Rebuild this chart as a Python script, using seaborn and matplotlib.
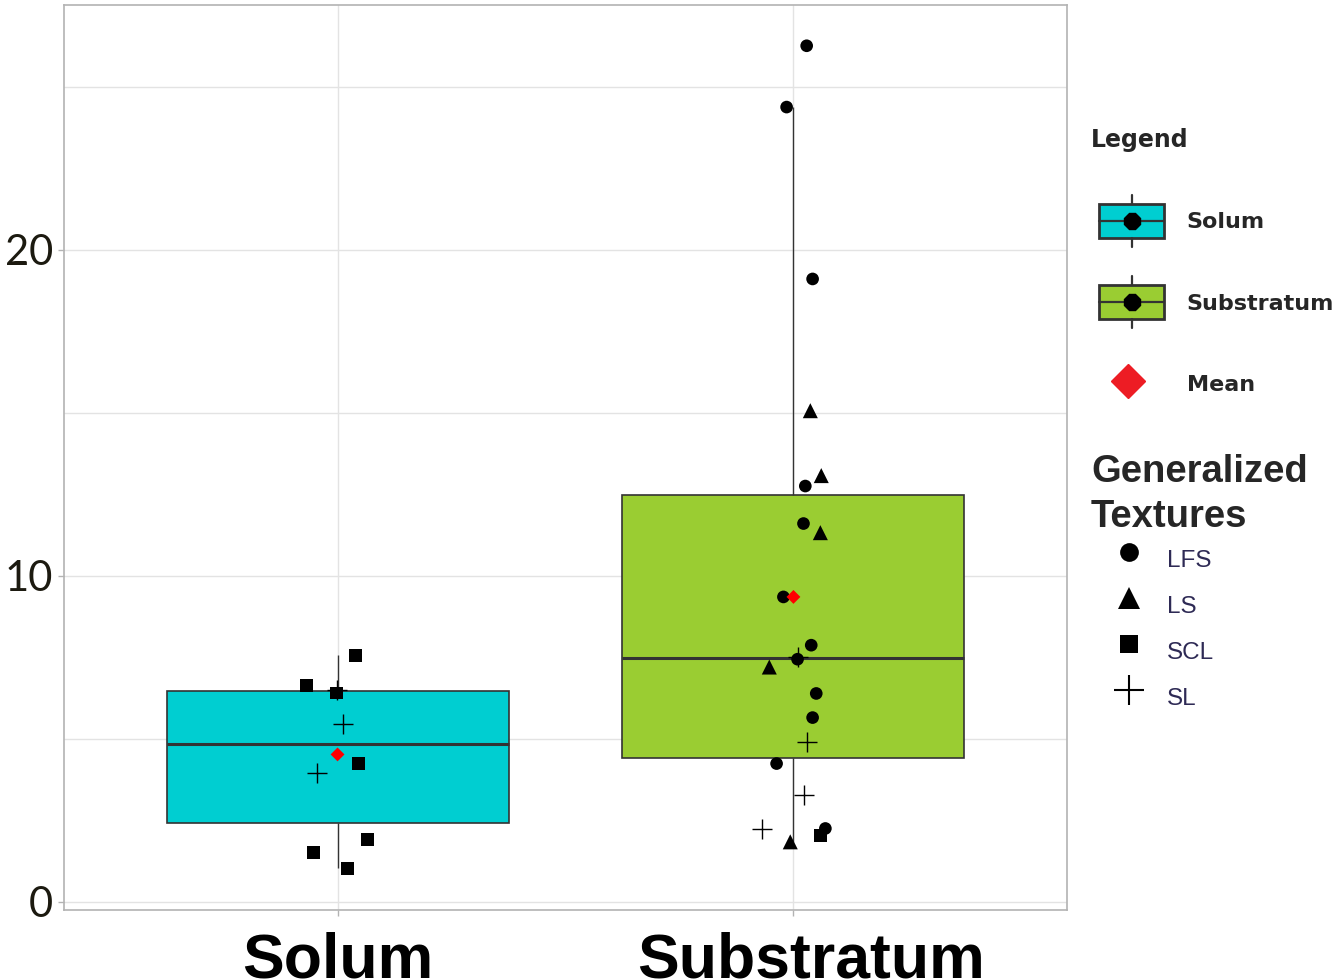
import numpy as np
import pandas as pd
import matplotlib
matplotlib.use("Agg")
import matplotlib.pyplot as plt
import matplotlib.transforms as mtransforms
import seaborn as sns
from matplotlib.lines import Line2D
from matplotlib.patches import Patch, Rectangle
from matplotlib.legend_handler import HandlerBase
from matplotlib.ticker import MultipleLocator

# values (value, texture, horizontal jitter)
horizons = ["Solum", "Substratum"]

solum_values = [7.56, 6.64, 6.40, 6.49, 5.45, 3.94, 4.25, 1.92, 1.52, 1.03]
solum_textures = ["SCL", "SCL", "SCL", "SL", "SL", "SL", "SCL", "SCL", "SCL", "SCL"]
solum_jitter = [0.039, -0.068, -0.002, -0.002, 0.011, -0.044, 0.046, 0.066, -0.053, 0.022]

substratum_values = [26.25, 24.37, 19.10, 15.06, 13.07, 12.75, 11.60, 11.32, 9.35, 7.87, 7.44,
                     7.52, 7.20, 6.39, 5.65, 4.90, 4.24, 3.27, 2.22, 1.84, 2.04, 2.25]
substratum_textures = ["LFS", "LFS", "LFS", "LS", "LS", "LFS", "LFS", "LS", "LFS", "LFS", "LFS",
                       "SL", "LS", "LFS", "LFS", "SL", "LFS", "SL", "SL", "LS", "SCL", "LFS"]
substratum_jitter = [0.029, -0.015, 0.042, 0.037, 0.061, 0.026, 0.022, 0.059, -0.022, 0.039, 0.009,
                     0.009, -0.053, 0.050, 0.042, 0.029, -0.037, 0.024, -0.068, -0.007, 0.059, 0.070]

texture_order = ["LFS", "LS", "SCL", "SL"]
horizon_colors = {"Solum": "#00CED1", "Substratum": "#9ACD32"}
texture_markers = {"LFS": "o", "LS": "^", "SCL": "s", "SL": "+"}
texture_sizes = {"LFS": 83, "LS": 117, "SCL": 83, "SL": 228}
legend_ms = {"LFS": 13.5, "LS": 16, "SCL": 13, "SL": 21}

df = pd.DataFrame({
    "horizon": ["Solum"] * len(solum_values) + ["Substratum"] * len(substratum_values),
    "value": solum_values + substratum_values,
    "texture": solum_textures + substratum_textures,
    "jitter": solum_jitter + substratum_jitter,
})
df["pos"] = df["horizon"].map({h: i for i, h in enumerate(horizons)})
df["x_jit"] = df["pos"] + df["jitter"]

means = df.groupby("horizon", sort=False)["value"].mean().reset_index()
means["pos"] = means["horizon"].map({h: i for i, h in enumerate(horizons)})


class BoxKeyHandler(HandlerBase):
    # little boxplot glyph used in the first legend
    def create_artists(self, legend, orig_handle, xdescent, ydescent, width, height, fontsize, trans):
        box_w, box_h, span = 46.8, 24.5, 38.0
        x0 = -xdescent + width - box_w
        xc = x0 + box_w / 2
        yc = -ydescent + height / 2
        rect = Rectangle((x0, yc - box_h / 2), box_w, box_h, facecolor=orig_handle.get_facecolor(),
                         edgecolor="#333333", linewidth=2.0, transform=trans)
        top = Line2D([xc, xc], [yc + box_h / 2, yc + span / 2], color="#333333", lw=1.6, transform=trans)
        bottom = Line2D([xc, xc], [yc - span / 2, yc - box_h / 2], color="#333333", lw=1.6, transform=trans)
        median = Line2D([x0, x0 + box_w], [yc, yc], color="#333333", lw=1.6, transform=trans)
        dot = Line2D([xc], [yc], marker="8", ms=13, color="black", ls="none", transform=trans)
        return [rect, top, bottom, median, dot]


sns.set_theme(style="whitegrid")
plt.rcParams["font.family"] = ["DejaVu Sans"]

fig = plt.figure(figsize=(13.43, 9.8), dpi=100)
ax = fig.add_axes([64 / 1343, 70 / 980, 1003 / 1343, 905 / 980])
ax.set_axisbelow(True)

sns.boxplot(data=df, x="pos", y="value", hue="horizon", palette=horizon_colors, native_scale=True,
            width=0.75, saturation=1, showfliers=False, linecolor="#333333", linewidth=1.2,
            legend=False, ax=ax, medianprops={"linewidth": 2.2}, whiskerprops={"linewidth": 1.0},
            capprops={"visible": False})

for tex in texture_order:
    sub = df[df["texture"] == tex]
    if tex == "SL":
        sns.scatterplot(data=sub, x="x_jit", y="value", marker="+", s=texture_sizes[tex], color="black",
                        edgecolor="black", linewidth=1.0, ax=ax, legend=False, zorder=3)
    else:
        sns.scatterplot(data=sub, x="x_jit", y="value", marker=texture_markers[tex], s=texture_sizes[tex],
                        color="black", edgecolor="none", linewidth=0, ax=ax, legend=False, zorder=3)

sns.scatterplot(data=means, x="pos", y="value", marker="D", s=50, color="red", edgecolor="none",
                ax=ax, legend=False, zorder=4)

ax.set_xlim(-0.6, 1.6)
ax.set_ylim(-0.25, 27.5)
ax.set_xticks(range(len(horizons)))
ax.set_xticklabels(horizons, fontsize=45, fontweight="bold", family="Liberation Sans", color="black")
ax.yaxis.set_major_locator(MultipleLocator(10))
ax.yaxis.set_minor_locator(MultipleLocator(5))
for lab in ax.get_yticklabels():
    lab.set_fontsize(30)
    lab.set_family("Lato")
    lab.set_fontweight("normal")
    lab.set_color("#1c1a10")
ax.set_xlabel("")
ax.set_ylabel("")

ax.grid(True, which="major", axis="both", color="#e3e3e3", linewidth=1.0)
ax.grid(True, which="minor", axis="y", color="#e3e3e3", linewidth=1.0)
ax.tick_params(axis="both", which="major", length=4.3, width=1.0, color="#b3b3b3")
ax.tick_params(axis="y", which="major", pad=3.6, left=True)
ax.tick_params(axis="x", which="major", pad=11, bottom=True)
ax.tick_params(which="minor", length=0)
for sp in ax.spines.values():
    sp.set_visible(True)
    sp.set_color("#b3b3b3")
    sp.set_linewidth(1.2)

# the second category label sits a little right of its tick in the original
# (done after tick_params, which resets label transforms)
sub_lab = ax.xaxis.get_major_ticks()[1].label1
sub_lab.set_transform(sub_lab.get_transform() + mtransforms.ScaledTranslation(0.18, 0, fig.dpi_scale_trans))

# legend 1: horizons + mean
h_solum = Patch(facecolor=horizon_colors["Solum"], label="Solum")
h_sub = Patch(facecolor=horizon_colors["Substratum"], label="Substratum")
h_mean = Line2D([], [], marker="D", color="#ed1c24", ls="none", ms=17, label="Mean")
fig.legend(handles=[h_solum, h_sub, h_mean], loc="upper left", bbox_to_anchor=(1091 / 1343, 1 - 128 / 980),
           frameon=False, borderpad=0, borderaxespad=0, handler_map={Patch: BoxKeyHandler()},
           title="Legend", alignment="left",
           prop={"family": "DejaVu Sans", "weight": "bold", "size": 16},
           title_fontproperties={"family": "DejaVu Sans", "weight": "bold", "size": 17},
           handlelength=3.3, handleheight=1.3, labelspacing=2.56, handletextpad=1.0)

# legend 2: textures
tex_handles = [Line2D([], [], marker=texture_markers[t], color="black", ls="none", ms=legend_ms[t],
                      mew=1.5 if t == "SL" else 0, label=t) for t in texture_order]
leg2 = fig.legend(handles=tex_handles, loc="upper left", bbox_to_anchor=(1091 / 1343, 1 - 454 / 980),
                  frameon=False, borderpad=0, borderaxespad=0, title="Generalized\nTextures",
                  alignment="left", prop={"family": "Liberation Sans", "size": 17.5},
                  title_fontproperties={"family": "Liberation Sans", "weight": "bold", "size": 27.5},
                  handlelength=3.13, handleheight=2.38, labelspacing=0.1, handletextpad=0,
                  labelcolor="#2e2a55")
leg2.get_title().set_linespacing(1.33)

fig.savefig("out.png", dpi=100)
